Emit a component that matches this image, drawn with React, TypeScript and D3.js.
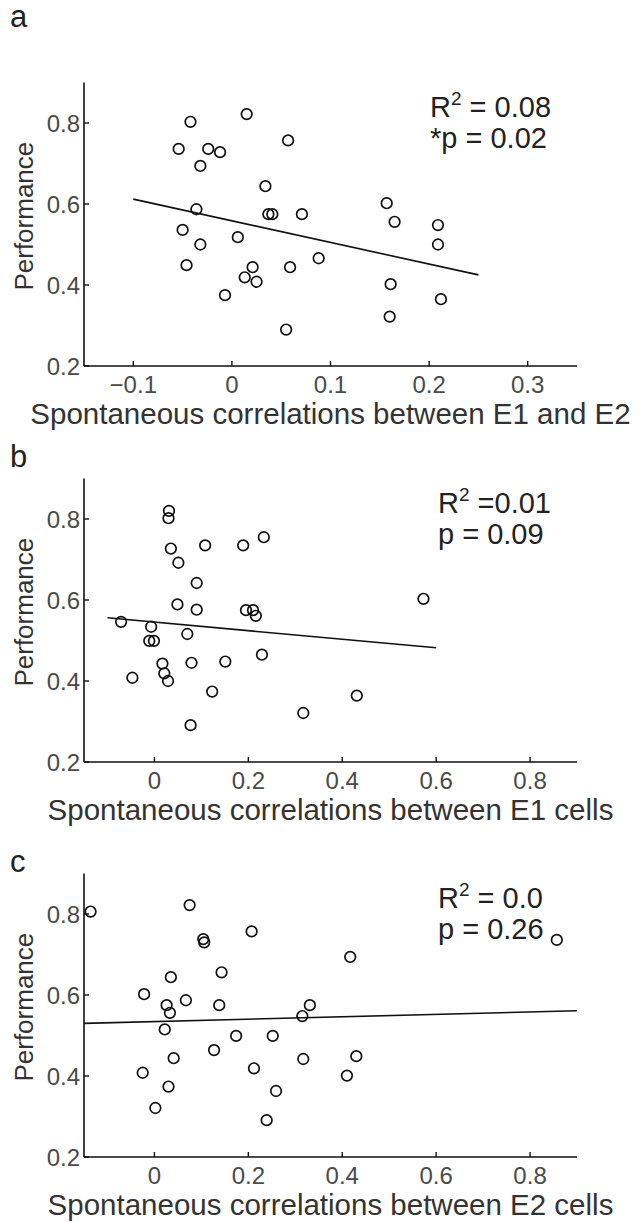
import React from "react";
import * as d3 from "d3";

// ---------- data ----------
const panelLetters = ["a", "b", "c"];
const xAxisTitles = [
  "Spontaneous correlations between E1 and E2",
  "Spontaneous correlations between E1 cells",
  "Spontaneous correlations between E2 cells",
];
const yAxisTitle = "Performance";

const corrA = [-0.042, 0.015, -0.054, -0.024, -0.012, -0.032, 0.057, 0.034, -0.036, -0.05, -0.032, -0.046, 0.006, 0.013, 0.021, 0.025, -0.007, 0.037, 0.041, 0.071, 0.059, 0.055, 0.088, 0.157, 0.165, 0.209, 0.209, 0.161, 0.212, 0.16];
const perfA = [0.803, 0.822, 0.736, 0.736, 0.728, 0.694, 0.757, 0.644, 0.587, 0.536, 0.5, 0.449, 0.518, 0.419, 0.444, 0.408, 0.375, 0.575, 0.575, 0.575, 0.444, 0.29, 0.466, 0.602, 0.556, 0.548, 0.5, 0.402, 0.365, 0.322];

const corrB = [0.031, 0.03, 0.035, 0.051, 0.108, 0.189, 0.233, 0.09, 0.049, 0.09, 0.195, 0.21, 0.216, 0.573, -0.071, -0.007, -0.011, -0.001, 0.07, -0.047, 0.017, 0.021, 0.029, 0.079, 0.151, 0.229, 0.123, 0.077, 0.317, 0.431];
const perfB = [0.82, 0.802, 0.727, 0.692, 0.735, 0.735, 0.755, 0.642, 0.589, 0.576, 0.575, 0.575, 0.561, 0.603, 0.546, 0.534, 0.499, 0.499, 0.516, 0.408, 0.443, 0.419, 0.4, 0.445, 0.448, 0.465, 0.374, 0.291, 0.321, 0.364];

const corrC = [-0.136, 0.075, 0.207, 0.104, 0.106, 0.143, 0.035, -0.022, 0.026, 0.067, 0.138, 0.033, 0.315, 0.331, 0.857, 0.417, 0.022, 0.174, 0.252, 0.127, 0.041, 0.317, 0.43, -0.025, 0.212, 0.41, 0.03, 0.259, 0.002, 0.239];
const perfC = [0.806, 0.822, 0.757, 0.738, 0.73, 0.656, 0.644, 0.602, 0.575, 0.587, 0.575, 0.556, 0.548, 0.575, 0.736, 0.694, 0.515, 0.499, 0.499, 0.464, 0.444, 0.442, 0.449, 0.408, 0.419, 0.401, 0.374, 0.363, 0.321, 0.291];

const fitXA = [-0.1, 0.25];
const fitYA = [0.612, 0.425];
const fitXB = [-0.1, 0.6];
const fitYB = [0.556, 0.482];
const fitXC = [-0.15, 0.9];
const fitYC = [0.53, 0.561];

const xDomainA = [-0.15, 0.35];
const xDomainBC = [-0.15, 0.9];
const yDomain = [0.2, 0.9];

const xTicksA = [-0.1, 0, 0.1, 0.2, 0.3];
const xTickLabelsA = ["\u22120.1", "0", "0.1", "0.2", "0.3"];
const xTicksBC = [0, 0.2, 0.4, 0.6, 0.8];
const xTickLabelsBC = ["0", "0.2", "0.4", "0.6", "0.8"];
const yTicks = [0.2, 0.4, 0.6, 0.8];
const yTickLabels = ["0.2", "0.4", "0.6", "0.8"];

const r2Values = [" = 0.08", " =0.01", " = 0.0"];
const pTexts = ["*p = 0.02", "p = 0.09", "p = 0.26"];

// ---------- layout ----------
const W = 641;
const H = 1222;
const LEFT = 84;
const RIGHT = 577;
const PLOT_H = 283.5;
const bottoms = [366, 762, 1157];
const letterY = [27, 467, 872];
const statX = [430, 438, 438];
const statY = [117, 513, 908];
const FONT = "'Liberation Sans', Arial, Helvetica, sans-serif";

type PanelProps = {
  idx: number;
  xs: number[];
  ys: number[];
  fx: number[];
  fy: number[];
  xDomain: number[];
  xTicks: number[];
  xTickLabels: string[];
};

function Panel({ idx, xs, ys, fx, fy, xDomain, xTicks, xTickLabels }: PanelProps) {
  const bottom = bottoms[idx];
  const top = bottom - PLOT_H;
  const x = d3.scaleLinear().domain(xDomain).range([LEFT, RIGHT]);
  const y = d3.scaleLinear().domain(yDomain).range([bottom, top]);
  const line = d3
    .line<number>()
    .x((d, i) => x(fx[i]))
    .y((d, i) => y(fy[i]));
  const axisColor = "#111";
  return (
    <g>
      <text x={10} y={letterY[idx]} fontSize={31} fill="#222" fontFamily={FONT}>
        {panelLetters[idx]}
      </text>
      {/* axes */}
      <line x1={LEFT} x2={LEFT} y1={top} y2={bottom} stroke={axisColor} strokeWidth={1.6} />
      <line x1={LEFT} x2={RIGHT} y1={bottom} y2={bottom} stroke={axisColor} strokeWidth={1.6} />
      {yTicks.map((t, i) => (
        <g key={"yt" + i}>
          <line x1={LEFT} x2={LEFT + 5} y1={y(t)} y2={y(t)} stroke={axisColor} strokeWidth={1.4} />
          <text
            x={LEFT - 4}
            y={y(t)}
            dy="0.36em"
            textAnchor="end"
            fontSize={24}
            fill="#4a4a4a"
            fontFamily={FONT}
          >
            {yTickLabels[i]}
          </text>
        </g>
      ))}
      {xTicks.map((t, i) => (
        <g key={"xt" + i}>
          <line x1={x(t)} x2={x(t)} y1={bottom} y2={bottom - 5} stroke={axisColor} strokeWidth={1.4} />
          <text
            x={x(t)}
            y={bottom + 27}
            textAnchor="middle"
            fontSize={24}
            fill="#4a4a4a"
            fontFamily={FONT}
          >
            {xTickLabels[i]}
          </text>
        </g>
      ))}
      <text
        x={(LEFT + RIGHT) / 2}
        y={bottom + 58}
        textAnchor="middle"
        fontSize={29.5}
        fill="#333"
        fontFamily={FONT}
      >
        {xAxisTitles[idx]}
      </text>
      <text
        transform={`translate(33, ${y(0.57)}) rotate(-90)`}
        textAnchor="middle"
        fontSize={26}
        fill="#333"
        fontFamily={FONT}
      >
        {yAxisTitle}
      </text>
      {/* fit line */}
      <path d={line(fx) || ""} fill="none" stroke="#111" strokeWidth={1.6} />
      {/* points */}
      {xs.map((v, i) => (
        <circle key={"p" + i} cx={x(v)} cy={y(ys[i])} r={5.3} fill="none" stroke="#111" strokeWidth={1.7} />
      ))}
      {/* stats */}
      <text x={statX[idx]} y={statY[idx]} fontSize={29} fill="#222" fontFamily={FONT}>
        R
        <tspan fontSize={19} dy={-12}>2</tspan>
        <tspan dy={12}>{r2Values[idx]}</tspan>
      </text>
      <text x={statX[idx]} y={statY[idx] + 31} fontSize={29} fill="#222" fontFamily={FONT}>
        {pTexts[idx]}
      </text>
    </g>
  );
}

export default function App() {
  return (
    <svg
      width={W}
      height={H}
      viewBox={`0 0 ${W} ${H}`}
      style={{ position: "absolute", left: 0, top: 0, background: "#fff" }}
    >
      <rect x={0} y={0} width={W} height={H} fill="#fff" />
      <Panel idx={0} xs={corrA} ys={perfA} fx={fitXA} fy={fitYA} xDomain={xDomainA} xTicks={xTicksA} xTickLabels={xTickLabelsA} />
      <Panel idx={1} xs={corrB} ys={perfB} fx={fitXB} fy={fitYB} xDomain={xDomainBC} xTicks={xTicksBC} xTickLabels={xTickLabelsBC} />
      <Panel idx={2} xs={corrC} ys={perfC} fx={fitXC} fy={fitYC} xDomain={xDomainBC} xTicks={xTicksBC} xTickLabels={xTickLabelsBC} />
    </svg>
  );
}
